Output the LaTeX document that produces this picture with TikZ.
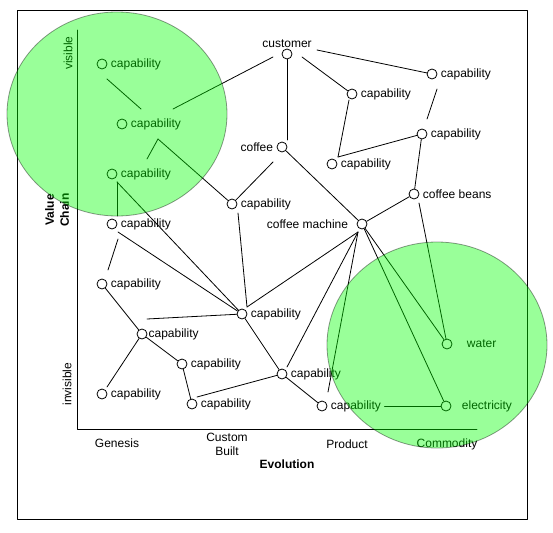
\documentclass[tikz,border=0pt]{standalone}
\usepackage{fontspec}
\setmainfont{Liberation Sans}
\usetikzlibrary{calc}
\begin{document}
\begin{tikzpicture}[x=1pt,y=-1pt,line join=round,line cap=round,
    font=\fontsize{12}{14}\selectfont,
    nodo/.style={circle,draw,line width=0.8pt,fill=white,
                 inner sep=0pt,minimum size=10pt},
    arco/.style={line width=0.8pt},
    grassetto/.style={font=\fontsize{12}{15}\selectfont\bfseries},
    bolla/.style={draw=black,fill=green,opacity=0.4,line width=0.8pt}]

  \useasboundingbox (0,0) rectangle (553,532);
  \draw[line width=0.8pt] (17,10) rectangle (527,519);

  % ---- assi della mappa ----------------------------------------------------
  \coordinate (alto) at (77,30);
  \coordinate (O) at (77,429);
  \coordinate (destra) at (477,429);
  \draw[arco] (alto) -- (O) -- (destra);

  \node[rotate=90] (vis) at (68,53) {visible};
  \node[rotate=90] (invis) at (67,384) {invisible};
  \node[rotate=90,grassetto,align=center] (catena) at (57,210) {Value\\Chain};

  \node (gen) at (117,443) {Genesis};
  \node[align=center] (cust) at (227,444) {Custom\\Built};
  \node (prod) at (347,444) {Product};
  \node (comm) at (447,444) {Commodity};
  \node[grassetto] (evo) at (287,464) {Evolution};

  % ---- componenti ----------------------------------------------------------
  \node[nodo,label={[inner sep=1pt]above:customer}] (customer) at (287,54) {};
  \node[nodo,label=left:coffee] (coffee) at (282,147) {};
  \node[nodo,label={[label distance=5pt]left:coffee machine}] (machine) at (362,224) {};
  \node[nodo,label=right:coffee beans] (beans) at (414,194) {};
  \node[nodo,label={[label distance=11pt]right:water}] (water) at (447,344) {};
  \node[nodo,label={[label distance=7pt]right:electricity}] (elec) at (446,406) {};

  \node[nodo,label=right:capability] (c1) at (102,64) {};
  \node[nodo,label=right:capability] (c2) at (122,124) {};
  \node[nodo,label=right:capability] (c3) at (112,174) {};
  \node[nodo,label=right:capability] (c4) at (112,224) {};

  \node[nodo,label=right:capability] (r1) at (432,74) {};
  \node[nodo,label=right:capability] (r2) at (422,134) {};
  \node[nodo,label=right:capability] (m1) at (352,94) {};
  \node[nodo,label=right:capability] (m2) at (332,164) {};
  \node[nodo,label=right:capability] (cc) at (232,204) {};

  \node[nodo,label=right:capability] (g1) at (102,284) {};
  \node[nodo,label={[inner sep=1pt]right:capability}] (g2) at (142,334) {};
  \node[nodo,label=right:capability] (g3) at (182,364) {};
  \node[nodo,label=right:capability] (g4) at (102,394) {};
  \node[nodo,label=right:capability] (g5) at (192,404) {};

  \node[nodo,label=right:capability] (mid) at (242,314) {};
  \node[nodo,label=right:capability] (p1) at (282,374) {};
  \node[nodo,label={[name=p2l]right:capability}] (p2) at (322,406) {};

  % ---- collegamenti (alcuni con l'estremo libero) --------------------------
  \draw[arco] ($(customer)+(-14,3)$) -- ($(c2)+(51,-15)$);
  \draw[arco] ($(customer)+(15,3)$) -- (m1);
  \draw[arco] ($(customer)+(30,-4)$) -- (r1);
  \draw[arco] (customer) -- ($(coffee)+(5,-7)$);
  \draw[arco] ($(c1)+(5,15)$) -- ($(c2)+(19,-15)$);
  \draw[arco] ($(c2)+(36,15)$) -- ($(c3)+(35,-15)$);
  \draw[arco] ($(c2)+(36,15)$) -- (cc);
  \draw[arco] ($(c3)+(5,8)$) -- ($(c4)+(5,-8)$);
  \draw[arco] ($(c3)+(5,8)$) -- (mid);
  \draw[arco] ($(c4)+(6,8)$) -- (mid);
  \draw[arco] ($(c4)+(6,15)$) -- ($(g1)+(6,-14)$);

  \draw[arco] ($(m1)+(-3,6)$) -- ($(m2)+(6,-7)$);
  \draw[arco] ($(m2)+(6,-7)$) -- (r2);
  \draw[arco] ($(r1)+(5,15)$) -- ($(r2)+(5,-15)$);
  \draw[arco] (r2) -- (beans);

  \draw[arco] ($(coffee)+(-9,15)$) -- (cc);
  \draw[arco] (coffee) -- (machine);
  \draw[arco] ($(cc)+(6,9)$) -- ($(mid)+(5,-7)$);
  \draw[arco] (beans) -- (machine);
  \draw[arco] ($(beans)+(5,9)$) -- (water);

  \draw[arco] ($(machine)+(-4,8)$) -- ($(mid)+(5,-7)$);
  \draw[arco] ($(machine)+(-4,8)$) -- ($(p1)+(5,-7)$);
  \draw[arco] ($(machine)+(-4,8)$) -- ($(p2)+(6,-14)$);
  \draw[arco] (machine) -- (water);
  \draw[arco] (machine) -- (elec);

  \draw[arco] (g1) -- (g2);
  \draw[arco] (g2) -- (g3);
  \draw[arco] (g2) -- ($(g4)+(5,-7)$);
  \draw[arco] ($(g2)+(5,-15)$) -- (mid);
  \draw[arco] (g3) -- (g5);
  \draw[arco] ($(g5)+(5,-7)$) -- (p1);
  \draw[arco] (mid) -- (p1);
  \draw[arco] (p1) -- (p2);
  \draw[arco] (p2l) -- (elec);

  % ---- le due zone evidenziate ---------------------------------------------
  \draw[bolla] (117,114) ellipse [x radius=110pt,y radius=102pt];
  \draw[bolla] (437,345) ellipse [x radius=110pt,y radius=103pt];

\end{tikzpicture}
\end{document}
